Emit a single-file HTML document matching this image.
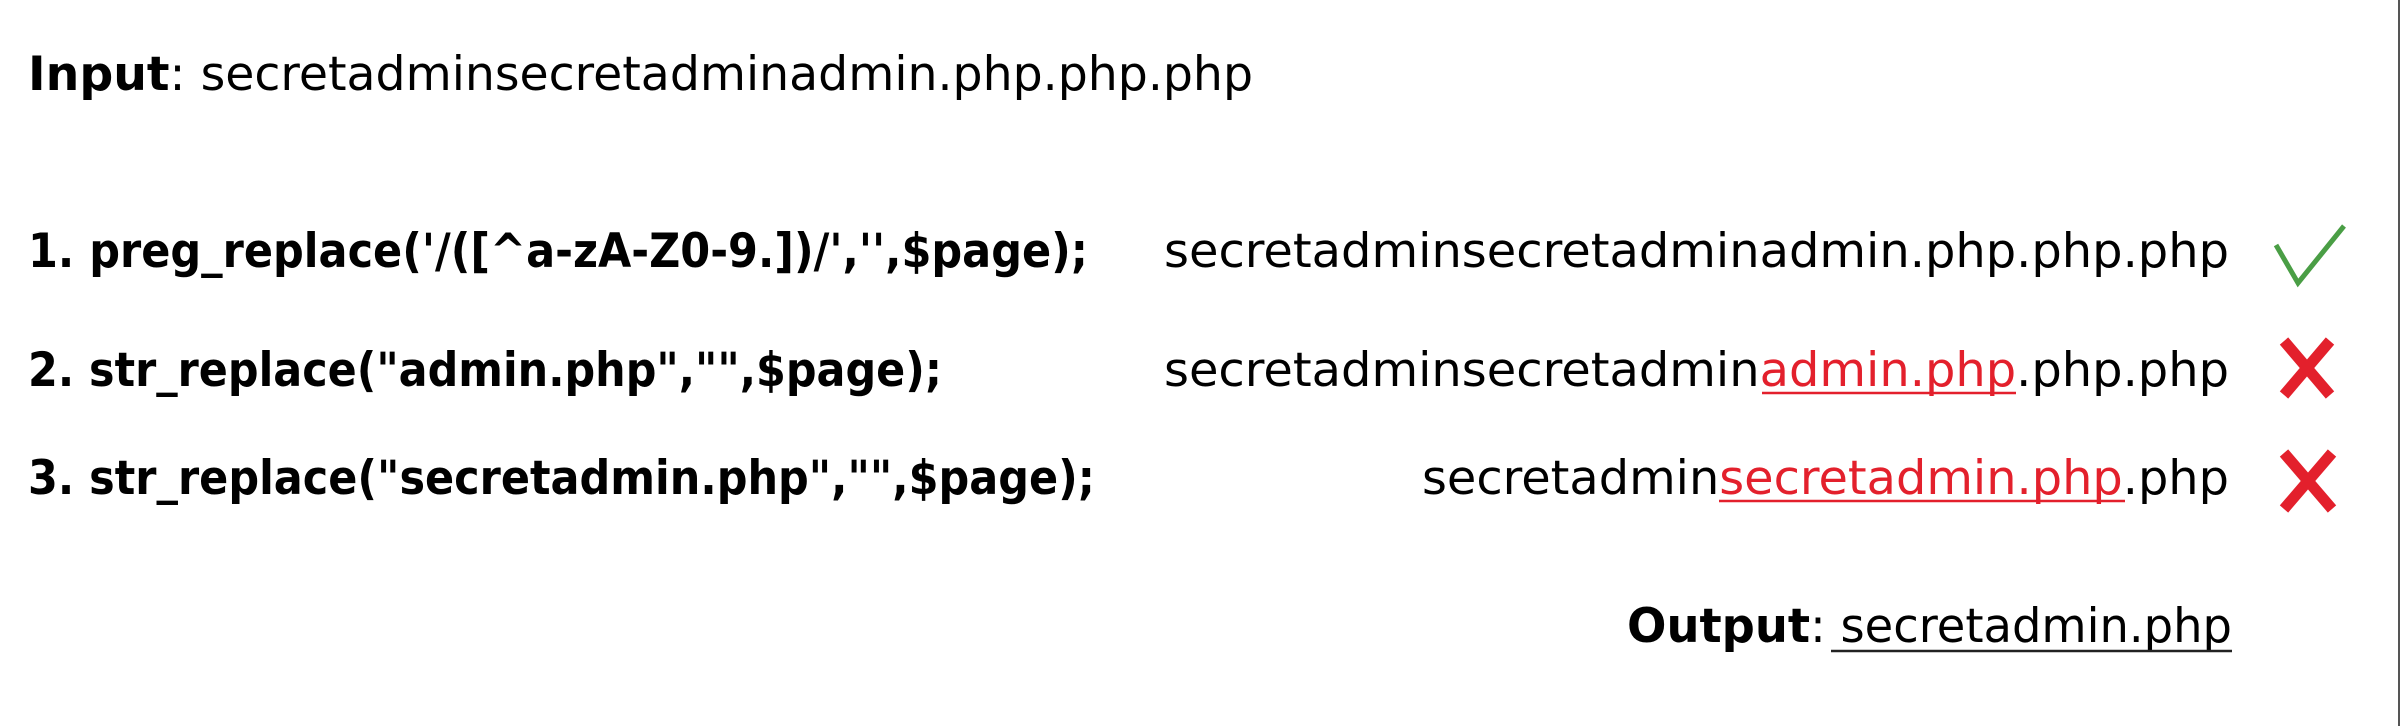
<!DOCTYPE html>
<html><head><meta charset="utf-8"><style>
html,body{margin:0;padding:0;background:#fff;}
svg{display:block;}
text{font-family:"DejaVu Sans","Liberation Sans",sans-serif;font-size:47px;fill:#000;}
.b{font-weight:bold;}
.r{fill:#e3202c;}
</style></head><body>
<svg width="2402" height="726" viewBox="0 0 2402 726" xmlns="http://www.w3.org/2000/svg">
<rect width="2402" height="726" fill="#fff"/>
<line x1="2399" y1="0" x2="2399" y2="726" stroke="#555" stroke-width="2"/>

<text x="28" y="90" textLength="1225" lengthAdjust="spacingAndGlyphs"><tspan class="b">Input</tspan>: secretadminsecretadminadmin.php.php.php</text>

<text class="b" x="28" y="267" textLength="1060" lengthAdjust="spacingAndGlyphs">1. preg_replace('/([^a-zA-Z0-9.])/','',$page);</text>
<text x="1164" y="267" textLength="1065" lengthAdjust="spacingAndGlyphs">secretadminsecretadminadmin.php.php.php</text>
<polyline points="2276,245 2298,283 2344,226" fill="none" stroke="#4a9e45" stroke-width="5"/>

<text class="b" x="28" y="386" textLength="914" lengthAdjust="spacingAndGlyphs">2. str_replace("admin.php","",$page);</text>
<text x="1164" y="386" textLength="1065" lengthAdjust="spacingAndGlyphs">secretadminsecretadmin<tspan class="r">admin.php</tspan>.php.php</text>
<line x1="1762" y1="393" x2="2016" y2="393" stroke="#e3202c" stroke-width="2.5"/>
<path d="M2284 341 L2330 395 M2330 341 L2284 395" stroke="#e3202c" stroke-width="11" stroke-linecap="butt"/>

<text class="b" x="28" y="494" textLength="1067" lengthAdjust="spacingAndGlyphs">3. str_replace("secretadmin.php","",$page);</text>
<text x="1422" y="494" textLength="807" lengthAdjust="spacingAndGlyphs">secretadmin<tspan class="r">secretadmin.php</tspan>.php</text>
<line x1="1719" y1="501" x2="2125" y2="501" stroke="#e3202c" stroke-width="2.5"/>
<path d="M2284 453 L2332 509 M2332 453 L2284 509" stroke="#e3202c" stroke-width="11"/>

<text x="1627" y="642" textLength="605" lengthAdjust="spacingAndGlyphs"><tspan class="b">Output</tspan>: secretadmin.php</text>
<line x1="1831" y1="651" x2="2232" y2="651" stroke="#222" stroke-width="2.5"/>
</svg>
</body></html>
